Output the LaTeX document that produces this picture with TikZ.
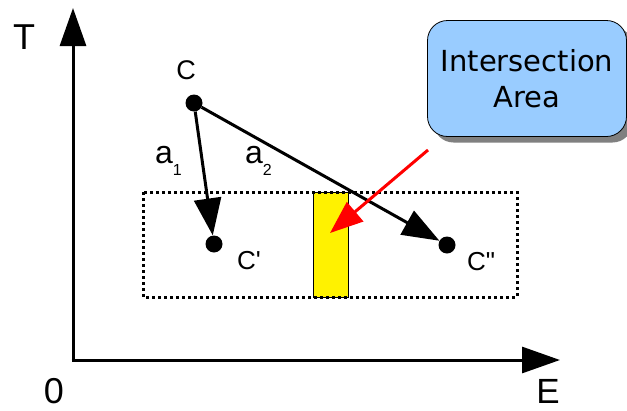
\documentclass[tikz,border=0pt]{standalone}
\usepackage{fontspec}
\setmainfont{Liberation Sans}
\newfontfamily\boxfont{DejaVu Sans}
\usetikzlibrary{arrows.meta,shadows}
\tikzset{
  axis/.style={line width=3pt,-{Triangle[length=38pt,width=26pt]}},
  vec/.style={line width=3pt,-{Triangle[length=37pt,width=27pt]}},
  dot/.style={circle,fill=black,inner sep=0pt,minimum size=17pt},
  lbl/.style={inner sep=0pt,font=\fontsize{26}{30}\selectfont},
  big/.style={inner sep=0pt,font=\fontsize{36}{40}\selectfont},
}
\newcommand{\subnum}[1]{\raisebox{-12pt}{\fontsize{16}{18}\selectfont #1}}
\definecolor{areablue}{HTML}{99CCFF}
\definecolor{shadowgray}{HTML}{808080}
\begin{document}
\begin{tikzpicture}[x=1pt,y=-1pt]
\useasboundingbox (0,0) rectangle (627,410);

\coordinate (o) at (73,360);
\coordinate (ytop) at (73,8);
\coordinate (xend) at (560,360);
\draw[line width=3pt] (73,358.5) -- (73,361.5);
\draw[axis] (o) -- (ytop);
\draw[axis] ([xshift=-1.5pt]o) -- (xend);
\node[big] (tlab) at (24,37) {T};
\node[big] (zero) at (54,391) {0};
\node[big,font=\fontsize{35}{38}\selectfont] (elab) at (548,391) {E};

\fill[yellow] (313,192) rectangle (348,297);
\draw[line width=0.8pt] (313,192) rectangle (348,297);
\draw[line width=3pt,dash pattern=on 3pt off 3pt] (143,192) rectangle (517,297);

\node[dot] (c) at (194,103) {};
\node[dot] (c1) at (214,244) {};
\node[dot] (c2) at (447,245) {};
\node[lbl,font=\fontsize{27}{30}\selectfont] (clab) at (186,70) {C};
\node[lbl] (c1lab) at (249,261) {C\textquotesingle};
\node[lbl] (c2lab) at (481,262) {C\textquotedbl};
\draw[vec] (c) -- (c1);
\draw[vec] (c) -- (c2);
\node[lbl,font=\fontsize{32}{34}\selectfont,anchor=base west] (a1) at (155,163) {a\subnum{1}};
\node[lbl,font=\fontsize{32}{34}\selectfont,anchor=base west] (a2) at (245,163) {a\subnum{2}};

\node[draw=black,line width=0.8pt,fill=areablue,rounded corners=20pt,
  minimum width=199pt,minimum height=116pt,align=center,
  drop shadow={shadow xshift=6pt,shadow yshift=-6pt,fill=shadowgray,opacity=1},
  font=\boxfont\fontsize{29}{36}\selectfont] (area) at (527,78.5) {Intersection\\Area};

\coordinate (rstart) at (428,150);
\coordinate (rtip) at (330,233);
\draw[red,line width=3pt,-{Triangle[length=33pt,width=25pt]}] (rstart) -- (rtip);
\end{tikzpicture}
\end{document}
